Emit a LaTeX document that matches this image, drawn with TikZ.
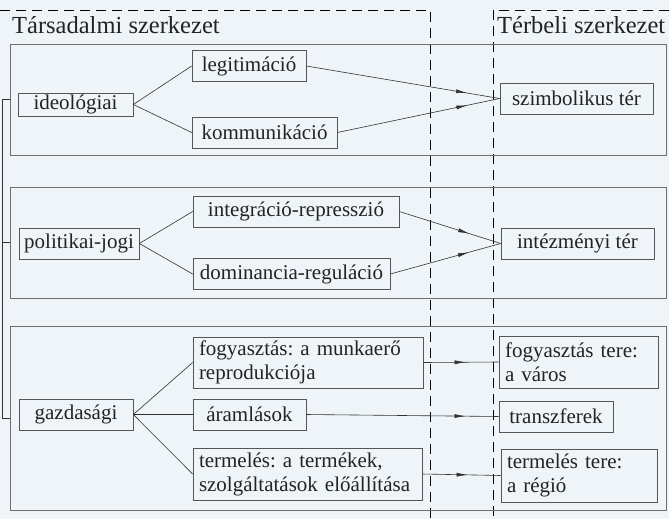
\documentclass[tikz,border=0pt]{standalone}
\usepackage{fontspec}
\setmainfont{Liberation Serif}
\usetikzlibrary{arrows.meta,decorations.markings}
\definecolor{bgblue}{RGB}{238,244,247}
\definecolor{boxgray}{RGB}{85,85,85}
\definecolor{linegray}{RGB}{50,50,50}
\definecolor{textgray}{RGB}{35,35,35}
\frenchspacing
\begin{document}
\begin{tikzpicture}[x=1pt,y=-1pt]
\tikzstyle{every node}=[text=textgray,font=\rmfamily\fontsize{21}{24}\selectfont]
\tikzstyle{group}=[draw=boxgray!85,line width=0.7pt,inner sep=0pt]
\tikzstyle{item}=[draw=boxgray,line width=0.7pt,inner xsep=0pt,inner ysep=2pt,minimum height=31pt]
\tikzstyle{twoline}=[draw=boxgray,line width=0.7pt,inner xsep=6pt,inner ysep=2pt,align=left]
\tikzstyle{link}=[draw=linegray,line width=0.6pt]
\tikzstyle{flow}=[link,postaction={decorate},decoration={markings,mark=at position -33pt with {\arrow{Latex[length=11pt,width=4pt]}}}]
\tikzstyle{dashline}=[draw=black,line width=0.7pt,dash pattern=on 10pt off 6pt]
\tikzstyle{title}=[anchor=base west,inner sep=0pt,font=\rmfamily\fontsize{24.5}{28}\selectfont]
\fill[bgblue] (0,0) rectangle (669,519);
\useasboundingbox (0,0) rectangle (669,519);
\draw[dashline] (0,10) -- (430,10) -- (430,519);
\draw[dashline] (669,10) -- (493,10) -- (493,519);
\node[title] (tarsadalmi) at (12,34) {Társadalmi szerkezet};
\node[title] (terbeli) at (497,34) {Térbeli szerkezet};
\node[group,minimum width=656pt,minimum height=111pt] (grp1) at (338,99.5) {};
\node[group,minimum width=656pt,minimum height=111pt] (grp2) at (338,242.5) {};
\node[group,minimum width=656pt,minimum height=184pt] (grp3) at (338,418) {};
\node[item,minimum width=115pt,minimum height=23pt,inner ysep=0pt] (ideo) at (75.5,104.5) {ideológiai};
\node[item,minimum width=114pt] (legit) at (249,66) {legitimáció};
\node[item,minimum width=145pt] (komm) at (264.5,132.5) {kommunikáció};
\node[item,minimum width=153pt] (szimb) at (576.5,98.5) {szimbolikus tér};
\node[item,minimum width=120pt] (polit) at (79,243.5) {politikai-jogi};
\node[item,minimum width=206pt] (integ) at (296,211.5) {integráció-represszió};
\node[item,minimum width=197pt] (domin) at (291.5,274) {dominancia-reguláció};
\node[item,minimum width=153pt] (intez) at (577.5,243.5) {intézményi tér};
\node[item,minimum width=114pt] (gazd) at (76,414.5) {gazdasági};
\node[twoline,text width=218pt,minimum height=51pt] (fogy) at (308,362.5) {fogyasztás: a munkaerő\\reprodukciója};
\node[item,minimum width=113pt] (araml) at (249.5,414.5) {áramlások};
\node[twoline,text width=217pt,minimum height=52pt] (term) at (307.5,474) {termelés: a termékek,\\szolgáltatások előállítása};
\node[twoline,text width=147pt,minimum height=52pt] (fogyter) at (578.5,362) {fogyasztás tere:\\a város};
\node[item,minimum width=114pt] (transz) at (556,416.5) {transzferek};
\node[twoline,text width=144pt,minimum height=53pt] (termter) at (579,475.5) {termelés tere:\\a régió};
\coordinate (spine1) at (2.5,99.5);
\coordinate (spine3) at (2.5,418);
\draw[link] (grp1.west) -- (spine1) -- (spine3) -- (grp3.west);
\draw[link] (grp2.west) -- (spine1 |- grp2.west);
\draw[link] (ideo.east) -- (legit.west);
\draw[link] (ideo.east) -- (komm.west);
\draw[link] (polit.east) -- (integ.west);
\draw[link] (polit.east) -- (domin.west);
\draw[link] (gazd.east) -- (fogy.west);
\draw[link] (gazd.east) -- (araml.west);
\draw[link] (gazd.east) -- (term.west);
\draw[flow] (legit.east) -- (szimb.west);
\draw[flow] (komm.east) -- (szimb.west);
\draw[flow] (integ.east) -- (intez.west);
\draw[flow] (domin.east) -- (intez.west);
\draw[flow] (fogy.east) -- (fogyter.west);
\draw[flow] (araml.east) -- (transz.west);
\draw[flow] (term.east) -- (termter.west);
\end{tikzpicture}
\end{document}
